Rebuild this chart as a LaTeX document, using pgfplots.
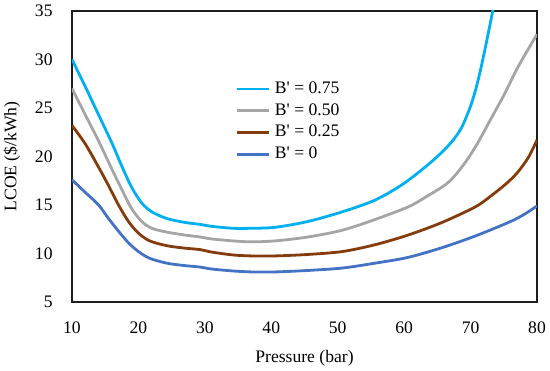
\documentclass[border=0pt]{standalone}
\usepackage{fontspec}
\setmainfont{Liberation Serif}
\usepackage{pgfplots}
\pgfplotsset{compat=1.18}
\definecolor{cLB}{HTML}{00B0F0}
\definecolor{cGR}{HTML}{A5A5A5}
\definecolor{cBR}{HTML}{843C0C}
\definecolor{cBL}{HTML}{4472C4}
\definecolor{frame}{RGB}{30,30,30}
\begin{document}
\begin{tikzpicture}
\begin{axis}[
  name=ax,
  scale only axis,
  width=232.5pt, height=145.5pt,
  xmin=10, xmax=80, ymin=5, ymax=35,
  xtick={10,20,...,80}, ytick={5,10,...,35},
  major tick length=0pt,
  axis line style={draw=frame, line width=1.1pt},
  font=\fontsize{8.8}{10}\selectfont,
  /pgf/number format/assume math mode=true,
  yticklabel style={inner sep=0pt, anchor=east, xshift=-9.5pt},
  xticklabel style={inner sep=0pt, anchor=north, yshift=-9.5pt},
  xlabel={Pressure (bar)},
  ylabel={LCOE (\$/kWh)},
  xlabel style={at={(axis description cs:0.5,0)}, anchor=center, yshift=-28pt},
  ylabel style={at={(axis description cs:0,0.5)}, anchor=center, yshift=30pt},
  legend cell align=left,
  legend style={at={(axis cs:34.5,23.6)}, anchor=west, draw=none, fill=none,
    inner xsep=0pt, inner ysep=0pt, row sep=2.5pt, font=\fontsize{8.8}{10}\selectfont,
    nodes={inner xsep=2.5pt, inner ysep=0.5pt}},
  legend image code/.code={\draw[#1] (0pt,0pt) -- (16pt,0pt);},
]
\addplot[cLB, line width=1.4pt, smooth] coordinates {(10,30) (12,27.2) (14,24.3) (16,21.4) (17.5,19.0) (19,16.8) (20.5,15.2) (22,14.3) (24.3,13.6) (27,13.2) (29.3,13.0) (31,12.8) (34.2,12.6) (37,12.6) (40.6,12.7) (45.5,13.3) (50.7,14.3) (55.6,15.5) (59.7,17.1) (63.5,19.1) (66.5,21.0) (68.5,22.8) (70,25.2) (71,27.5) (72,30.5) (73.4,35.2)};
\addlegendentry{B\textquotesingle{} = 0.75}
\addplot[cGR, line width=1.4pt, smooth] coordinates {(10,27.0) (12,24.3) (14,21.6) (16,18.7) (17.5,16.6) (19,14.6) (20.5,13.3) (22,12.6) (24.3,12.2) (27,11.9) (29.3,11.7) (31,11.5) (34.2,11.3) (37,11.2) (40.6,11.3) (45.5,11.7) (50.7,12.4) (55.6,13.5) (60.6,14.8) (63.2,15.8) (66.6,17.3) (69,19.2) (71,21.3) (73,23.8) (75,26.3) (77.2,29.3) (80,32.6)};
\addlegendentry{B\textquotesingle{} = 0.50}
\addplot[cBR, line width=1.4pt, smooth] coordinates {(10,23.2) (12,21.3) (14,18.9) (15.5,17.0) (17,15.0) (18.5,13.3) (20,12.1) (21.7,11.3) (24.3,10.8) (27,10.55) (29.3,10.4) (31,10.15) (34.2,9.85) (37,9.75) (40.6,9.75) (45.5,9.9) (50.7,10.2) (55.6,10.9) (60.6,11.9) (65.7,13.2) (70.7,14.8) (73,15.9) (75.2,17.1) (77,18.3) (78.7,19.9) (80,21.7)};
\addlegendentry{B\textquotesingle{} = 0.25}
\addplot[cBL, line width=1.4pt, smooth] coordinates {(10,17.6) (12,16.3) (14,15.0) (15.5,13.6) (17,12.3) (18.5,11.1) (20,10.2) (21.7,9.5) (24.3,9.0) (27,8.75) (29.3,8.6) (31,8.4) (34.2,8.2) (37,8.1) (40.6,8.1) (45.5,8.25) (50.7,8.5) (55.6,9.0) (60.6,9.6) (65.7,10.6) (70.7,11.8) (75.7,13.2) (78,14.0) (80,14.9)};
\addlegendentry{B\textquotesingle{} = 0}
\end{axis}
\pgfresetboundingbox
\path ([xshift=-36pt,yshift=-34.5pt]ax.south west) rectangle ([xshift=6.5pt,yshift=5.5pt]ax.north east);
\end{tikzpicture}
\end{document}
